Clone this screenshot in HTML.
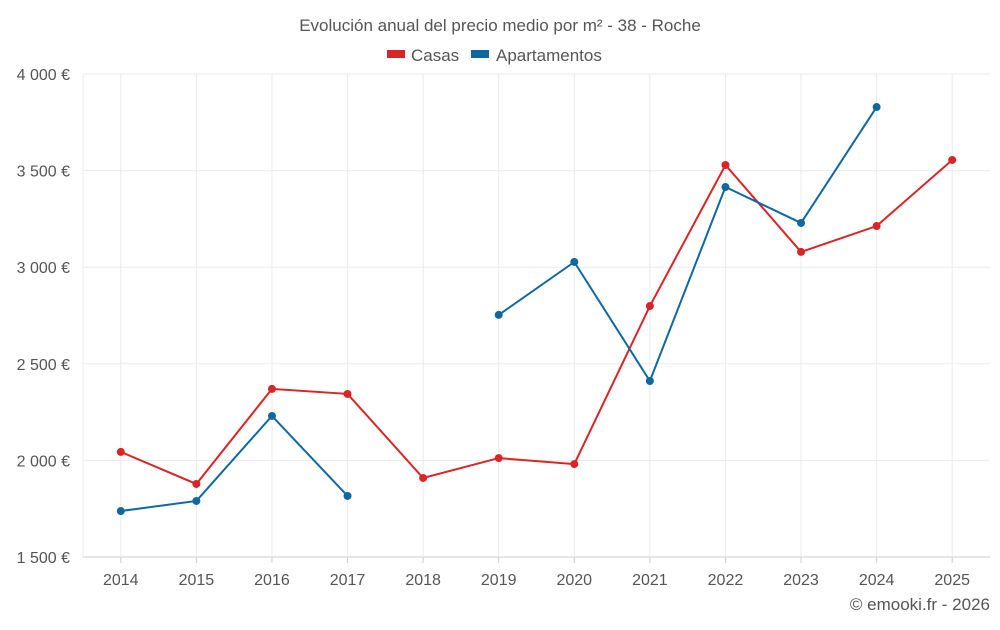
<!DOCTYPE html>
<html><head><meta charset="utf-8"><style>
body{margin:0;background:#fff;font-family:"Liberation Sans",sans-serif}
svg text{font-family:"Liberation Sans",sans-serif;fill:#555}
</style></head><body>
<svg id="c" width="1000" height="625">
<text x="500" y="31" text-anchor="middle" font-size="17">Evolución anual del precio medio por m² - 38 - Roche</text>
<g>
<rect x="387" y="50" width="18" height="8" fill="#d92526"/>
<text x="411" y="61" font-size="17">Casas</text>
<rect x="471" y="50" width="18" height="8" fill="#0f68a0"/>
<text x="496" y="61" font-size="17">Apartamentos</text>
</g>
<g id="grid"></g><g id="axes"></g><g id="series"></g>
<text x="990" y="610" text-anchor="end" font-size="17">© emooki.fr - 2026</text>
</svg>
<script>
const years=[2014,2015,2016,2017,2018,2019,2020,2021,2022,2023,2024,2025];
const casas=[2044,1878,2370,2344,1909,2012,1981,2799,3529,3079,3213,3555];
const apartamentos=[1738,1790,2230,1816,null,2753,3027,2411,3415,3229,3829,null];
const yTicks=[1500,2000,2500,3000,3500,4000];
const yTickLabels=["1 500 €","2 000 €","2 500 €","3 000 €","3 500 €","4 000 €"];
const NS="http://www.w3.org/2000/svg";
const L=83,R=990,T=74,B=557;
const step=(R-L)/years.length;
const x=i=>L+step*(i+0.5);
const y=v=>B-(v-1500)/2500*(B-T);
function mk(tag,attrs,parent){const e=document.createElementNS(NS,tag);for(const k in attrs)e.setAttribute(k,attrs[k]);parent.appendChild(e);return e;}
const grid=document.getElementById('grid'),axes=document.getElementById('axes'),ser=document.getElementById('series');
yTicks.forEach((v,i)=>{
 const ln=mk('line',{x1:L,x2:R,y1:y(v),y2:y(v),stroke:i==0?'#ccc':'#ebebeb'},grid);
 
 
 const t=mk('text',{x:70,y:y(v)+6,'text-anchor':'end','font-size':'16'},axes);
 t.textContent=yTickLabels[i];
 
 
});
const lb=mk('line',{x1:L,x2:L,y1:T,y2:B,stroke:'#ebebeb'},grid);


years.forEach((yr,i)=>{
 const ln=mk('line',{x1:x(i),x2:x(i),y1:T,y2:B,stroke:'#ebebeb'},grid);
 
 
 const tk=mk('line',{x1:x(i),x2:x(i),y1:B,y2:B+6,stroke:'#ccc'},axes);
 
 
 const t=mk('text',{x:x(i),y:585,'text-anchor':'middle','font-size':'16'},axes);
 t.textContent=yr;
 
 
});
function draw(data,color,name){
 let seg=[];
 const segs=[];
 data.forEach((v,i)=>{if(v==null){if(seg.length)segs.push(seg);seg=[];}else seg.push([x(i),y(v)]);});
 if(seg.length)segs.push(seg);
 segs.forEach(s=>{
  const p=mk('polyline',{points:s.map(q=>q.join(',')).join(' '),fill:'none',stroke:color,'stroke-width':2},ser);
  
  
 });
 data.forEach((v,i)=>{if(v==null)return;
  const c=mk('circle',{cx:x(i),cy:y(v),r:4,fill:color},ser);
  
  
 });
}
draw(casas,'#d92526','casas');
draw(apartamentos,'#0f68a0','apartamentos');
</script>
</body></html>
